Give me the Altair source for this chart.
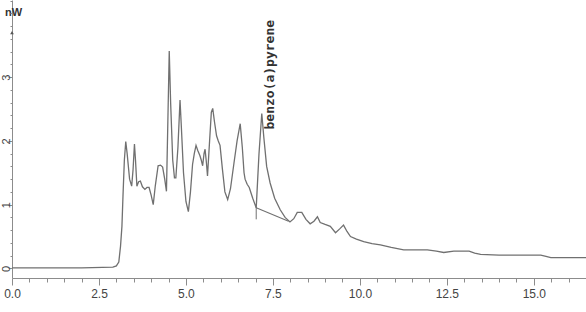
import altair as alt
import pandas as pd

# Chromatogram trace (retention time in min, signal in nW)
time_min = [0.0, 1.0, 2.0, 2.9, 3.0, 3.07, 3.12, 3.16, 3.19, 3.23, 3.27, 3.31, 3.38, 3.44,
            3.48, 3.52, 3.55, 3.59, 3.64, 3.69, 3.75, 3.82, 3.88, 3.94, 4.0, 4.06, 4.12,
            4.20, 4.27, 4.33, 4.39, 4.44, 4.48, 4.52, 4.56, 4.62, 4.67, 4.71, 4.77, 4.83,
            4.87, 4.93, 5.00, 5.07, 5.13, 5.19, 5.24, 5.29, 5.34, 5.40, 5.44, 5.48, 5.52,
            5.55, 5.59, 5.62, 5.68, 5.73, 5.77, 5.82, 5.88, 5.93, 5.98, 6.05, 6.12, 6.20,
            6.28, 6.38, 6.47, 6.56, 6.62, 6.67, 6.70, 6.76, 6.82, 6.92, 7.02, 7.10, 7.18,
            7.24, 7.32, 7.42, 7.55, 7.71, 7.85, 7.99, 8.10, 8.20, 8.33, 8.45, 8.57, 8.68,
            8.78, 8.86, 9.00, 9.15, 9.30, 9.42, 9.53, 9.63, 9.73, 9.90, 10.11, 10.35, 10.59,
            10.90, 11.26, 11.6, 11.94, 12.2, 12.41, 12.7, 12.95, 13.14, 13.30, 13.47, 14.0,
            14.43, 14.9, 15.2, 15.35, 15.49, 16.0, 16.5]
signal_nw = [0.01, 0.01, 0.01, 0.02, 0.04, 0.10, 0.35, 0.66, 1.13, 1.70, 1.99, 1.80, 1.40, 1.29,
             1.55, 1.95, 1.70, 1.29, 1.36, 1.37, 1.28, 1.24, 1.27, 1.27, 1.15, 1.00, 1.30,
             1.61, 1.62, 1.59, 1.40, 1.21, 2.30, 3.41, 2.60, 1.70, 1.42, 1.42, 1.90, 2.64,
             2.20, 1.50, 1.05, 0.89, 1.20, 1.63, 1.80, 1.93, 1.85, 1.77, 1.70, 1.61, 1.80,
             1.87, 1.65, 1.45, 2.00, 2.45, 2.51, 2.30, 2.08, 2.00, 1.93, 1.55, 1.20, 1.08,
             1.25, 1.65, 2.00, 2.27, 1.90, 1.50, 1.40, 1.32, 1.27, 1.10, 0.95, 1.80, 2.43,
             2.05, 1.60, 1.34, 1.10, 0.92, 0.80, 0.73, 0.78, 0.88, 0.88, 0.77, 0.70, 0.74,
             0.81, 0.72, 0.69, 0.66, 0.56, 0.62, 0.68, 0.58, 0.50, 0.46, 0.42, 0.39, 0.37,
             0.33, 0.29, 0.29, 0.29, 0.27, 0.25, 0.27, 0.27, 0.27, 0.24, 0.22, 0.21,
             0.21, 0.21, 0.21, 0.19, 0.17, 0.17, 0.17]

# Peak annotation
peak_name = ["benzo(a)pyrene"]
peak_time = [7.18]
peak_height = [2.43]

# Integration baseline of the annotated peak
base_time = [7.02, 7.95]
base_signal = [0.95, 0.74]
drop_time = [7.02]
drop_top = [0.97]
drop_bottom = [0.77]

# Axis marker
marker_time = [0.0]
marker_signal = [3.7]

# Ticks
x_major = [0.0, 2.5, 5.0, 7.5, 10.0, 12.5, 15.0]
x_minor = [0.5, 1.0, 1.5, 2.0, 3.0, 3.5, 4.0, 4.5, 5.5, 6.0, 6.5, 7.0, 8.0, 8.5, 9.0, 9.5,
           10.5, 11.0, 11.5, 12.0, 13.0, 13.5, 14.0, 14.5, 15.5, 16.0, 16.5]
y_major = [0, 1, 2, 3]
y_minor = [0.2, 0.4, 0.6, 0.8, 1.2, 1.4, 1.6, 1.8, 2.2, 2.4, 2.6, 2.8, 3.2, 3.4, 3.6, 3.8, 4.0, 4.2]

trace_df = pd.DataFrame({"t": time_min, "v": signal_nw})
peak_df = pd.DataFrame({"t": peak_time, "v": peak_height, "name": peak_name})
base_df = pd.DataFrame({"t": base_time, "v": base_signal})
drop_df = pd.DataFrame({"t": drop_time, "v": drop_top, "v2": drop_bottom})
marker_df = pd.DataFrame({"t": marker_time, "v": marker_signal})

xs = alt.Scale(domain=[0, 16.5], nice=False, zero=False)
ys = alt.Scale(domain=[-0.15, 4.21], nice=False, zero=False)

AX = "#8c8c8c"
LINE = "#707070"
LBL_FONT = "Liberation Sans Narrow, Arial Narrow, Liberation Sans"

x_major_axis = alt.Axis(values=x_major, format=".1f", orient="bottom", tickSize=7,
                        labelPadding=3, labelFontSize=12, labelFont=LBL_FONT,
                        labelColor="#444", domainColor=AX, tickColor=AX, grid=False,
                        labelFlush=False, title=None)
x_minor_axis = alt.Axis(values=x_minor, orient="bottom", labels=False, tickSize=4,
                        domain=False, tickColor=AX, grid=False, title=None)
y_major_axis = alt.Axis(values=y_major, format="d", orient="left", labelAngle=270,
                        labelAlign="center", labelBaseline="middle", tickSize=4,
                        labelPadding=2, labelFontSize=11, labelFont=LBL_FONT,
                        labelColor="#444", domainColor=AX, tickColor=AX, grid=False,
                        title="nW", titleAngle=0, titleX=1, titleY=12, titleAlign="center",
                        titleBaseline="middle", titleFontSize=11, titleFontWeight="bold",
                        titleColor="#333", titleFont="Liberation Sans")
y_minor_axis = alt.Axis(values=y_minor, orient="left", labels=False, tickSize=2,
                        domain=False, tickColor=AX, grid=False, title=None)

trace = alt.Chart(trace_df).mark_line(color=LINE, strokeWidth=1.3).encode(
    x=alt.X("t:Q", scale=xs, axis=x_major_axis),
    y=alt.Y("v:Q", scale=ys, axis=y_major_axis),
)
minor = alt.Chart(trace_df).mark_line(opacity=0).encode(
    x=alt.X("t:Q", scale=xs, axis=x_minor_axis),
    y=alt.Y("v:Q", scale=ys, axis=y_minor_axis),
)
baseline = alt.Chart(base_df).mark_line(color=LINE, strokeWidth=1.1).encode(
    x=alt.X("t:Q", scale=xs, axis=None),
    y=alt.Y("v:Q", scale=ys, axis=None),
)
drop = alt.Chart(drop_df).mark_rule(color=LINE, strokeWidth=1).encode(
    x=alt.X("t:Q", scale=xs, axis=None),
    y=alt.Y("v:Q", scale=ys, axis=None),
    y2="v2:Q",
)
label = alt.Chart(peak_df).mark_text(
    angle=270, align="left", baseline="middle", dx=-16, dy=8,
    font="DejaVu Sans Mono", fontWeight="bold", fontSize=13, color="#333",
).encode(
    x=alt.X("t:Q", scale=xs, axis=None),
    y=alt.Y("v:Q", scale=ys, axis=None),
    text="name:N",
)
marker = alt.Chart(marker_df).mark_point(shape="triangle-up", filled=True, size=14,
                                          color="#555", opacity=1).encode(
    x=alt.X("t:Q", scale=xs, axis=None),
    y=alt.Y("v:Q", scale=ys, axis=None),
)

chart = alt.layer(trace, minor, baseline, drop, label, marker).resolve_axis(
    x="independent", y="independent"
).properties(
    width=574, height=278,
    padding={"left": 12, "top": 0, "right": 0, "bottom": 34},
    autosize="none",
    background="white",
).configure_view(stroke=None)

chart.save("out.html", embed_options={"renderer": "svg", "actions": False})
